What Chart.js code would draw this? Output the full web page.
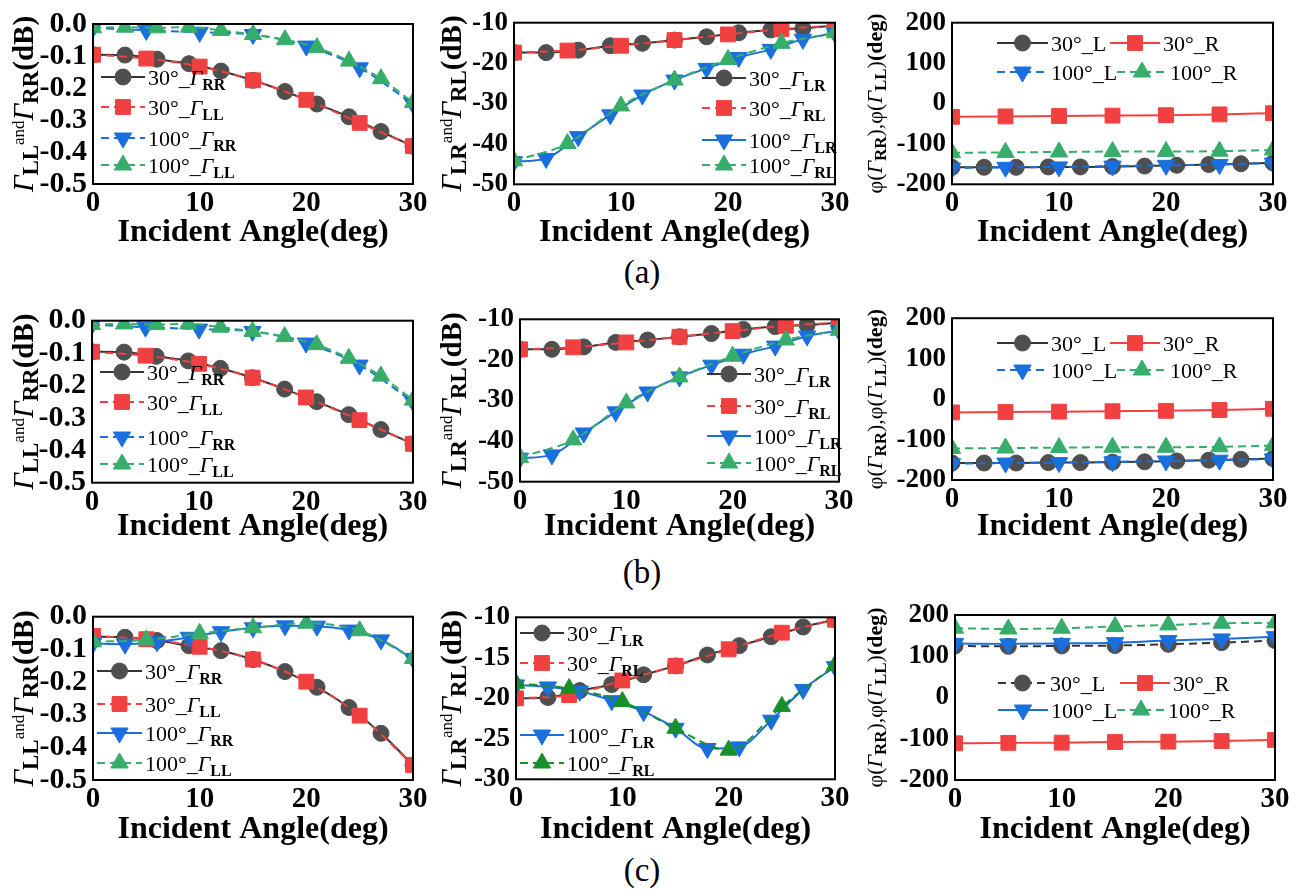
<!DOCTYPE html>
<html><head><meta charset="utf-8">
<script src="https://cdn.jsdelivr.net/npm/chart.js@4.4.1/dist/chart.umd.min.js"></script>
<style>
html,body{margin:0;padding:0;background:#fff;}
body{width:1306px;height:892px;position:relative;overflow:hidden;}
canvas{position:absolute;}
.lab{position:absolute;font-family:"Liberation Serif","Times New Roman",serif;font-size:33px;color:#000;transform:translate(-50%,-50%);}
</style></head><body>
<div class="lab" style="left:642px;top:272px">(a)</div>
<div class="lab" style="left:642px;top:572px">(b)</div>
<div class="lab" style="left:642px;top:870px">(c)</div>
<script>
// ---------- data ----------
const X3 = [0,3,6,9,12,15,18,21,24,27,30];
const X5 = [0,5,10,15,20,25,30];
const XTICKS = [0,10,20,30];

// (a)
const a1_30RR  = [-0.096,-0.097,-0.110,-0.124,-0.147,-0.176,-0.211,-0.250,-0.290,-0.336,-0.382];
const a1_30LL  = [-0.096,-0.108,-0.133,-0.176,-0.237,-0.309,-0.382];
const a1_100RR = [-0.012,-0.020,-0.026,-0.033,-0.069,-0.137,-0.250];
const a1_100LL = [-0.012,-0.010,-0.012,-0.010,-0.020,-0.033,-0.049,-0.074,-0.116,-0.171,-0.245];
const a2_30LR  = [-17.4,-17.4,-16.8,-15.7,-15.1,-14.3,-13.5,-12.5,-11.8,-11.4,-10.7];
const a2_30RL  = [-17.4,-16.9,-15.7,-14.3,-12.9,-11.6,-10.7];
const a2_100LR = [-44.4,-43.6,-38.2,-32.8,-27.9,-24.2,-21.3,-18.6,-16.6,-14.1,-12.6];
const a2_100RL = [-44.2,-39.9,-30.6,-24.2,-19.1,-15.1,-12.5];
const a3_30L   = [-158,-158,-158,-157,-157,-156,-155,-153,-151,-149,-147];
const a3_30R   = [-33,-32,-31,-30,-29,-27,-24];
const a3_100L  = [-160,-158,-157,-155,-153,-151,-148];
const a3_100R  = [-122,-121,-120,-119,-119,-118,-115];
// (b)
const b1_30RR  = [-0.096,-0.097,-0.110,-0.124,-0.147,-0.176,-0.211,-0.250,-0.290,-0.336,-0.380];
const b1_30LL  = [-0.096,-0.108,-0.133,-0.176,-0.237,-0.307,-0.380];
const b1_100RR = [-0.012,-0.020,-0.026,-0.033,-0.069,-0.137,-0.250];
const b1_100LL = [-0.012,-0.010,-0.012,-0.010,-0.020,-0.033,-0.049,-0.074,-0.116,-0.171,-0.245];
const b2_30LR  = [-17.4,-17.4,-16.8,-15.7,-15.1,-14.3,-13.5,-12.5,-11.8,-11.4,-10.8];
const b2_30RL  = [-17.4,-16.9,-15.7,-14.3,-12.9,-11.6,-10.8];
const b2_100LR = [-44.2,-43.4,-38.0,-32.8,-27.9,-24.2,-21.3,-18.6,-16.6,-14.1,-12.8];
const b2_100RL = [-44.0,-39.7,-30.6,-24.2,-19.1,-15.1,-12.7];
const b3_30L   = [-158,-158,-158,-157,-157,-156,-155,-153,-151,-149,-147];
const b3_30R   = [-33,-32,-31,-30,-29,-27,-24];
const b3_100L  = [-160,-158,-157,-155,-153,-151,-148];
const b3_100R  = [-122,-121,-120,-119,-119,-118,-115];
// (c)
const c1_30RR  = [-0.061,-0.063,-0.073,-0.089,-0.104,-0.131,-0.168,-0.216,-0.278,-0.357,-0.454];
const c1_30LL  = [-0.059,-0.069,-0.092,-0.131,-0.199,-0.303,-0.454];
const c1_100RR = [-0.082,-0.084,-0.077,-0.063,-0.046,-0.034,-0.028,-0.029,-0.041,-0.071,-0.128];
const c1_100LL = [-0.077,-0.071,-0.051,-0.034,-0.020,-0.043,-0.128];
const c2_30LR  = [-20.0,-19.9,-19.05,-18.3,-17.1,-16.0,-14.65,-13.5,-12.4,-11.2,-10.3];
const c2_30RL  = [-20.0,-19.6,-17.8,-16.0,-13.95,-11.9,-10.3];
const c2_100LR = [-18.35,-18.6,-19.1,-20.3,-21.65,-23.7,-26.2,-26.0,-22.7,-18.9,-16.1];
const c2_100RL = [-18.15,-18.8,-20.4,-23.7,-26.4,-21.0,-15.9];
const c3_30L   = [125,124,125,126,129,133,138];
const c3_30R   = [-111,-110,-109.5,-108,-107,-105.5,-103];
const c3_100L  = [131,130,131,133,138,142,147.5];
const c3_100R  = [168,166,168,172,176,180,181];

// y-axis ranges / tick labels
const Y_DB1 = {min:-0.5, max:0, step:0.1, dec:1};
const Y_DB2 = {min:-50, max:-10, step:10, dec:0};
const Y_DB2c = {min:-30, max:-10, step:5, dec:0};
const Y_PH  = {min:-200, max:200, step:100, dec:0};

// ---------- styling ----------
const SERIF = '"Liberation Serif","Times New Roman",serif';
const COL = {
  k:{line:'#353535', pt:'#4f4f4f'},
  r:{line:'#f14040', pt:'#f14040'},
  b:{line:'#1a6fdf', pt:'#1a6fdf'},
  g:{line:'#37ad6b', pt:'#37ad6b'},
  dg:{line:'#17902a', pt:'#17902a'}
};
const MK = {
  circ:{style:'circle', r:8, rot:0},
  sq:{style:'rect', r:10.5, rot:0},
  dn:{style:'triangle', r:10, rot:180},
  up:{style:'triangle', r:10, rot:0}
};
function S(xs, ys, c, mk, dash, pre, sub){ return {xs, ys, c, mk, dash, pre, sub}; }

function ytDb(s1, s2){
  return [
    {t:'\u0393', f:`italic 29px ${SERIF}`},
    {t:s1, f:`bold 23px ${SERIF}`, dy:5},
    {t:'and', f:`17px ${SERIF}`, dy:-9},
    {t:'\u0393', f:`italic 29px ${SERIF}`},
    {t:s2, f:`bold 23px ${SERIF}`, dy:5},
    {t:'(dB)', f:`bold 29px ${SERIF}`}
  ];
}
const ytPh = [
  {t:'\u03c6(', f:`22px ${SERIF}`},
  {t:'\u0393', f:`italic 22px ${SERIF}`},
  {t:'RR', f:`bold 17px ${SERIF}`, dy:4},
  {t:'),\u03c6(', f:`22px ${SERIF}`},
  {t:'\u0393', f:`italic 22px ${SERIF}`},
  {t:'LL', f:`bold 17px ${SERIF}`, dy:4},
  {t:')', f:`22px ${SERIF}`},
  {t:'(deg)', f:`bold 22px ${SERIF}`}
];

const COLS = [{L:0, W:434}, {L:434, W:424}, {L:858, W:448}];
const ROWS = [{T:0, H:262}, {T:296, H:264}, {T:592, H:264}];
const YTX = [24, 452, 873];

const panels = [
 {id:'a1', col:0, row:0, plot:[93,22.7,413,184], titleY:233, yr:Y_DB1, ysz:30, yt:ytDb('LL','RR'),
  series:[S(X3,a1_30RR,'k','circ',false,'30°_','RR'), S(X5,a1_30LL,'r','sq',true,'30°_','LL'),
          S(X5,a1_100RR,'b','dn',true,'100°_','RR'), S(X3,a1_100LL,'g','up',true,'100°_','LL')],
  leg:[[101,77,44],[101,107,44],[101,138,44],[101,165,44]]},
 {id:'a2', col:1, row:0, plot:[514,22.7,835,184.3], titleY:233, yr:Y_DB2, ysz:27, yt:ytDb('LR','RL'),
  series:[S(X3,a2_30LR,'k','circ',false,'30°_','LR'), S(X5,a2_30RL,'r','sq',true,'30°_','RL'),
          S(X3,a2_100LR,'b','dn',false,'100°_','LR'), S(X5,a2_100RL,'g','up',true,'100°_','RL')],
  leg:[[702,78,44],[702,108,44],[702,140,44],[702,165,44]]},
 {id:'a3', col:2, row:0, plot:[952,22.7,1273,184.3], titleY:233, yr:Y_PH, ysz:27, yt:ytPh,
  series:[S(X3,a3_30L,'k','circ',false,'30°_L'), S(X5,a3_30R,'r','sq',false,'30°_R'),
          S(X5,a3_100L,'b','dn',true,'100°_L'), S(X5,a3_100R,'g','up',true,'100°_R')],
  leg:[[997,43,51],[1110,43,50],[997,72,51],[1117,72,50]]},
 {id:'b1', col:0, row:1, plot:[92,320.7,413,482.7], titleY:527, yr:Y_DB1, ysz:30, yt:ytDb('LL','RR'),
  series:[S(X3,b1_30RR,'k','circ',false,'30°_','RR'), S(X5,b1_30LL,'r','sq',true,'30°_','LL'),
          S(X5,b1_100RR,'b','dn',true,'100°_','RR'), S(X3,b1_100LL,'g','up',true,'100°_','LL')],
  leg:[[100,372,44],[100,402,44],[100,437,44],[100,464,44]]},
 {id:'b2', col:1, row:1, plot:[520,319.3,839,481.7], titleY:527, yr:Y_DB2, ysz:27, yt:ytDb('LR','RL'),
  series:[S(X3,b2_30LR,'k','circ',false,'30°_','LR'), S(X5,b2_30RL,'r','sq',true,'30°_','RL'),
          S(X3,b2_100LR,'b','dn',false,'100°_','LR'), S(X5,b2_100RL,'g','up',true,'100°_','RL')],
  leg:[[707,374,44],[707,406,44],[707,436,44],[707,463,44]]},
 {id:'b3', col:2, row:1, plot:[952,316,1273,480], titleY:527, yr:Y_PH, ysz:27, yt:ytPh,
  series:[S(X3,b3_30L,'k','circ',false,'30°_L'), S(X5,b3_30R,'r','sq',false,'30°_R'),
          S(X5,b3_100L,'b','dn',true,'100°_L'), S(X5,b3_100R,'g','up',true,'100°_R')],
  leg:[[997,343,51],[1110,343,50],[997,370,51],[1117,370,50]]},
 {id:'c1', col:0, row:2, plot:[93,616.7,413,780], titleY:830, yr:Y_DB1, ysz:30, yt:ytDb('LL','RR'),
  series:[S(X3,c1_30RR,'k','circ',false,'30°_','RR'), S(X5,c1_30LL,'r','sq',true,'30°_','LL'),
          S(X3,c1_100RR,'b','dn',false,'100°_','RR'), S(X5,c1_100LL,'g','up',true,'100°_','LL')],
  leg:[[97,671,45],[97,704,45],[97,733,45],[97,763,45]]},
 {id:'c2', col:1, row:2, plot:[516,617.3,835,779.3], titleY:830, yr:Y_DB2c, ysz:27, yt:ytDb('LR','RL'),
  series:[S(X3,c2_30LR,'k','circ',false,'30°_','LR'), S(X5,c2_30RL,'r','sq',true,'30°_','RL'),
          S(X3,c2_100LR,'b','dn',false,'100°_','LR'), S(X5,c2_100RL,'dg','up',true,'100°_','RL')],
  leg:[[520,633,44],[520,663,44],[520,735,44],[520,763,44]]},
 {id:'c3', col:2, row:2, plot:[955,615,1275,780], titleY:830, yr:Y_PH, ysz:27, yt:ytPh,
  series:[S(X5,c3_30L,'k','circ',true,'30°_L'), S(X5,c3_30R,'r','sq',false,'30°_R'),
          S(X5,c3_100L,'b','dn',false,'100°_L'), S(X5,c3_100R,'g','up',true,'100°_R')],
  leg:[[998,683,49],[1120,683,50],[998,710,50],[1117,710,48]]}
];

// ---------- helpers ----------
function richWidth(ctx, segs){ let w=0; for(const s of segs){ ctx.font=s.f; w+=ctx.measureText(s.t).width; } return w; }
function drawRich(ctx, segs, x, y){ let cx=x; for(const s of segs){ ctx.font=s.f; ctx.fillText(s.t, cx, y+(s.dy||0)); cx+=ctx.measureText(s.t).width; } }
function legendSegs(sr){
  if (sr.sub) return [
    {t:sr.pre, f:`22px ${SERIF}`},
    {t:'\u0393', f:`italic 22px ${SERIF}`},
    {t:sr.sub, f:`bold 16px ${SERIF}`, dy:5}
  ];
  return [{t:sr.pre, f:`22px ${SERIF}`}];
}

function decoPlugin(p, cx, cy){
  return {
    id:'deco_'+p.id,
    afterDraw(chart){
      const ctx = chart.ctx, a = chart.chartArea;
      ctx.save();
      // frame
      ctx.strokeStyle='#000'; ctx.lineWidth=2; ctx.setLineDash([]);
      ctx.strokeRect(a.left, a.top, a.right-a.left, a.bottom-a.top);
      // y title
      ctx.fillStyle='#000'; ctx.textAlign='left'; ctx.textBaseline='alphabetic';
      const w = richWidth(ctx, p.yt);
      ctx.save();
      ctx.translate(YTX[p.col]-cx, (a.top+a.bottom)/2);
      ctx.rotate(-Math.PI/2);
      drawRich(ctx, p.yt, -w/2, 9);
      ctx.restore();
      // legend
      p.leg.forEach((e, i)=>{
        const ds = chart.data.datasets[i];
        const x0 = e[0]-cx, y = e[1]-cy, len = e[2];
        ctx.save();
        ctx.strokeStyle = ds.borderColor; ctx.lineWidth = 2;
        ctx.setLineDash(ds.borderDash || []);
        ctx.beginPath(); ctx.moveTo(x0, y); ctx.lineTo(x0+len, y); ctx.stroke();
        ctx.setLineDash([]);
        ctx.fillStyle = ds.pointBackgroundColor; ctx.strokeStyle = ds.pointBorderColor; ctx.lineWidth = 1;
        Chart.helpers.drawPoint(ctx, {pointStyle: ds.pointStyle, rotation: ds.pointRotation, radius: ds.pointRadius, borderWidth: 1}, x0+len/2, y);
        ctx.restore();
        ctx.fillStyle='#000';
        drawRich(ctx, legendSegs(p.series[i]), x0+len+3, y+8);
      });
      ctx.restore();
    }
  };
}

// ---------- build charts ----------
panels.forEach(p=>{
  const c = COLS[p.col], r = ROWS[p.row];
  const cv = document.createElement('canvas');
  cv.width = c.W; cv.height = r.H;
  cv.style.left = c.L+'px'; cv.style.top = r.T+'px';
  cv.style.width = c.W+'px'; cv.style.height = r.H+'px';
  document.body.appendChild(cv);
  const [pl, pt, pr, pb] = p.plot;
  const titleBottom = p.titleY + 32*1.2/2;
  const padTop = pt - r.T, padRight = c.L + c.W - pr, padBottom = r.T + r.H - titleBottom;
  const yW = pl - c.L, xH = titleBottom - pb;
  const datasets = p.series.map((s, i)=>({
    label: s.pre + (s.sub ? '\u0393' + s.sub : ''),
    data: s.xs.map((x, k)=>({x, y: s.ys[k]})),
    borderColor: COL[s.c].line,
    backgroundColor: COL[s.c].pt,
    pointBackgroundColor: COL[s.c].pt,
    pointBorderColor: COL[s.c].pt,
    pointBorderWidth: 1,
    pointStyle: MK[s.mk].style,
    pointRadius: MK[s.mk].r,
    pointRotation: MK[s.mk].rot,
    borderWidth: 2,
    borderDash: s.dash ? [8,5] : [],
    cubicInterpolationMode: 'monotone',
    fill: false,
    order: 3 - i
  }));
  new Chart(cv, {
    type:'line',
    data:{datasets},
    options:{
      responsive:false, animation:false,
      layout:{padding:{left:0, top:padTop, right:padRight, bottom:padBottom}},
      plugins:{legend:{display:false}, tooltip:{enabled:false}},
      scales:{
        x:{type:'linear', min:0, max:30,
           afterBuildTicks: s=>{ s.ticks = XTICKS.map(v=>({value:v})); },
           ticks:{color:'#000', font:{family:SERIF, size:29, weight:'bold'}, padding:2, maxRotation:0, autoSkip:false},
           grid:{display:false, drawTicks:false}, border:{display:false},
           title:{display:true, text:'Incident Angle(deg)', color:'#000', font:{family:SERIF, size:32, weight:'bold'}, padding:0},
           afterFit: s=>{ s.height = xH; }},
        y:{type:'linear', min:p.yr.min, max:p.yr.max,
           ticks:{stepSize:p.yr.step, autoSkip:false, color:'#000', font:{family:SERIF, size:p.ysz, weight:'bold'}, padding:6,
                  callback: v=>Number(v).toFixed(p.yr.dec)},
           grid:{display:false, drawTicks:false}, border:{display:false},
           afterFit: s=>{ s.width = yW; }}
      }
    },
    plugins:[decoPlugin(p, c.L, r.T)]
  });
});
</script>
</body></html>
